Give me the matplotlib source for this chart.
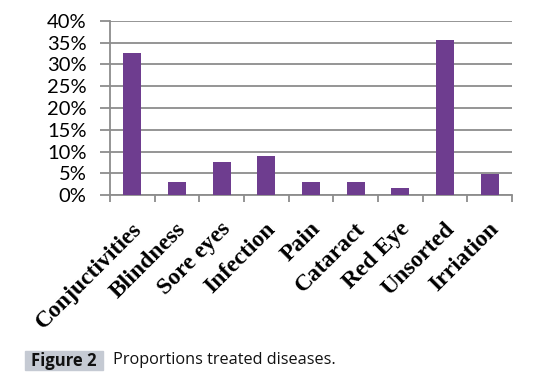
import matplotlib
matplotlib.use("Agg")
import matplotlib.pyplot as plt
import numpy as np
from matplotlib.patches import Rectangle

categories = ["Conjuctivities", "Blindness", "Sore eyes", "Infection", "Pain",
              "Cataract", "Red Eye", "Unsorted", "Irriation"]
values = [32.5, 3.0, 7.7, 9.0, 3.0, 3.0, 1.7, 35.5, 4.8]
yticks = [0, 5, 10, 15, 20, 25, 30, 35, 40]
ytick_labels = ["0%", "5%", "10%", "15%", "20%", "25%", "30%", "35%", "40%"]

W, H = 548, 382
fig = plt.figure(figsize=(W / 100, H / 100), dpi=100)
ax = fig.add_axes([110 / W, 1 - 195.3 / H, (512 - 110) / W, (195.3 - 20.7) / H])

x = np.arange(len(categories))
ax.bar(x, values, width=0.41, color="#6E3D8F", zorder=3)
ax.set_xlim(-0.5, len(categories) - 0.5)
ax.set_ylim(0, 40)

ax.set_yticks(yticks)
ax.set_yticklabels(ytick_labels, fontfamily="Lato", fontsize=14.5)
ax.yaxis.grid(True, color="#8c8c8c", linewidth=1.3, zorder=0)
ax.tick_params(axis="y", length=7, width=1.3, color="#8c8c8c", pad=10)

ax.set_xticks(np.arange(len(categories) + 1) - 0.5, minor=False)
ax.set_xticklabels([""] * (len(categories) + 1))
ax.tick_params(axis="x", length=5, width=1.3, color="#8c8c8c")
for i, c in enumerate(categories):
    ax.text(i - 0.03, -5.3, c, rotation=45, ha="right", va="top",
            rotation_mode="anchor", fontfamily="Liberation Serif",
            fontweight="bold", fontsize=17, transform=ax.transData)

for s in ["top", "right"]:
    ax.spines[s].set_visible(False)
for s in ["left", "bottom"]:
    ax.spines[s].set_color("#8c8c8c")
    ax.spines[s].set_linewidth(1.3)

fig.patches.append(Rectangle((25 / W, 1 - 370 / H), (103 - 25) / W, 19 / H,
                             transform=fig.transFigure, color="#c5cad3", zorder=0))
fig.text(64 / W, 1 - 360.5 / H, "Figure 2", ha="center", va="center",
         fontfamily="Open Sans", fontweight="bold", fontsize=12, color="#111111")
fig.text(113 / W, 1 - 360.5 / H, "Proportions treated diseases.", ha="left", va="center",
         fontfamily="Open Sans", fontsize=11.7, color="#111111")

fig.savefig("out.png", dpi=100)
